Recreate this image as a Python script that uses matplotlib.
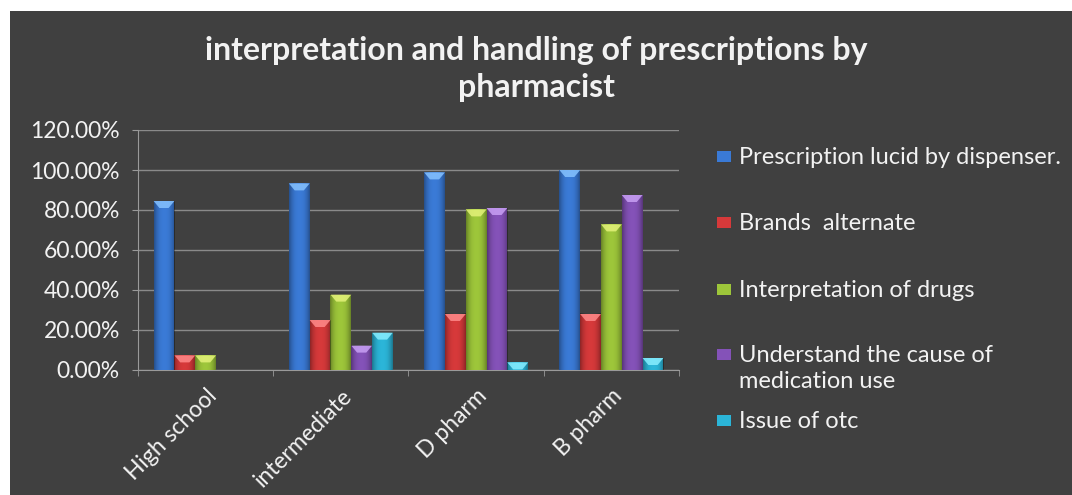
import numpy as np
import matplotlib.pyplot as plt
from matplotlib.patches import Rectangle, Polygon
from matplotlib.ticker import FuncFormatter

# ---------------
# Data
# ---------------

levels = ['High school', 'intermediate', 'D pharm', 'B pharm']

series_names = ['Prescription lucid by dispenser.',
                'Brands  alternate',
                'Interpretation of drugs',
                'Understand the cause of\nmedication use',
                'Issue of otc']

lucid = [0.845, 0.933, 0.988, 1.000]
brands = [0.073, 0.250, 0.280, 0.280]
interp = [0.073, 0.377, 0.803, 0.728]
understand = [0.0, 0.122, 0.810, 0.875]
otc = [0.0, 0.187, 0.038, 0.060]

colors = ['#3a7ad6', '#d6393a', '#9dc63a', '#8452b8', '#2bb5d8']
tops = ['#86c2ff', '#ff8a8a', '#e4f27a', '#c8a0f4', '#88eeff']

bg = '#404040'
fg = '#f2f2f2'
font = 'Lato'

# figure size in pixels, used to place things in pixel units
W, H = 1072, 495

# ---------------
# Plot
# ---------------

fig = plt.figure(figsize=(W / 100, H / 100), dpi=100, facecolor='white')
fig.patches.append(Rectangle((10 / W, 0), 1, 1 - 11 / H,
                             transform=fig.transFigure, facecolor=bg,
                             edgecolor='none', zorder=-10))

ax = fig.add_axes([138 / W, 1 - 370 / H, 541 / W, 240 / H])
ax.set_facecolor(bg)

x = np.arange(len(levels))
width = 1 / 6.5
values = [lucid, brands, interp, understand, otc]

# darker shading toward the bar sides (black with varying alpha)
shade = np.zeros((1, 60, 4))
shade[0, :, 3] = 0.35 * np.abs(np.linspace(-1, 1, 60)) ** 2.5

for i, vals in enumerate(values):
    bars = ax.bar(x + (i - 2) * width, vals, width, color=colors[i],
                  zorder=3, label=series_names[i])
    for b in bars:
        h = b.get_height()
        if h <= 0:
            continue
        x0, w = b.get_x(), b.get_width()
        ax.imshow(shade, extent=(x0, x0 + w, 0, h), aspect='auto',
                  interpolation='bilinear', clip_path=b, zorder=4)
        # light bevel on the top edge
        th = min(0.035, h)
        ax.add_patch(Polygon([(x0, h), (x0 + w, h), (x0 + w * 0.72, h - th),
                              (x0 + w * 0.28, h - th)], closed=True,
                             facecolor=tops[i], edgecolor='none',
                             alpha=0.85, zorder=5))

ax.set_xlim(-0.5, len(levels) - 0.5)
ax.set_ylim(0, 1.2)
ax.set_yticks(np.arange(0, 1.21, 0.2))
ax.yaxis.set_major_formatter(FuncFormatter(lambda v, p: f'{v * 100:.2f}%'))

ax.set_xticks(x)
ax.set_xticklabels(levels, rotation=45, ha='right', rotation_mode='anchor',
                   family=font, fontsize=16.5, color=fg)
ax.set_xticks(np.arange(-0.5, len(levels)), minor=True)
ax.tick_params(axis='x', which='major', length=0, pad=11)
ax.tick_params(axis='x', which='minor', length=4, color='#9a9a9a')
ax.tick_params(axis='y', length=4, color='#9a9a9a', labelsize=16.5,
               labelcolor=fg, pad=9)
for lab in ax.get_yticklabels():
    lab.set_family(font)

ax.grid(axis='y', color='#8a8a8a', linewidth=1, zorder=0)
for s in ['top', 'right']:
    ax.spines[s].set_visible(False)
for s in ['left', 'bottom']:
    ax.spines[s].set_color('#9a9a9a')

fig.text(0.5, 1 - 69 / H,
         'interpretation and handling of prescriptions by\npharmacist',
         ha='center', va='center', family=font, fontweight='bold',
         fontsize=23, color=fg, linespacing=1.32)

# Legend, drawn row by row (baselines in pixels from the top)
legend_rows = [164, 230, 297, 362, 428]
line_step = 26
for name, c, base in zip(series_names, colors, legend_rows):
    fig.patches.append(Rectangle((717 / W, 1 - (base - 2) / H),
                                 14 / W, 11 / H,
                                 transform=fig.transFigure, facecolor=c,
                                 edgecolor='none'))
    for k, line in enumerate(name.split('\n')):
        fig.text(739 / W, 1 - (base + k * line_step) / H, line,
                 ha='left', va='baseline', family=font, fontsize=17,
                 color=fg)

plt.savefig('out.png', dpi=100, facecolor='white')
